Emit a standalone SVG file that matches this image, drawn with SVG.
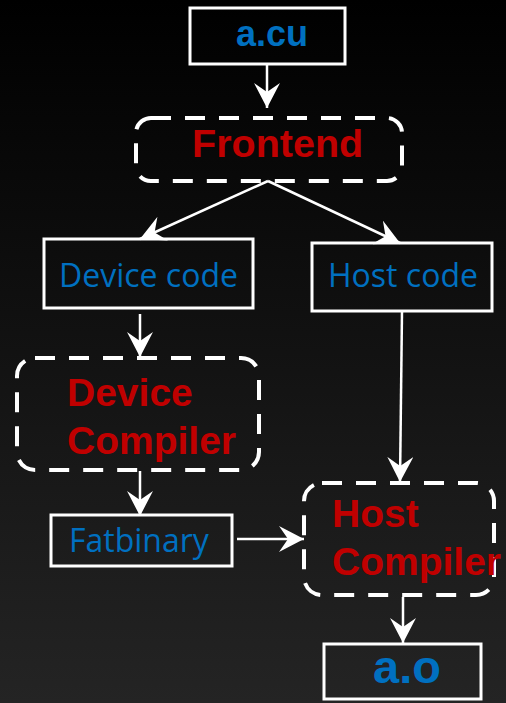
<svg xmlns="http://www.w3.org/2000/svg" width="506" height="703" viewBox="0 0 506 703">
  <defs>
    <linearGradient id="bg" x1="0" y1="0" x2="0" y2="1">
      <stop offset="0" stop-color="#000000"/>
      <stop offset="1" stop-color="#242424"/>
    </linearGradient>
    <marker id="arrow" viewBox="0 0 25 26" refX="25" refY="13" markerWidth="25" markerHeight="26" markerUnits="userSpaceOnUse" orient="auto">
      <path d="M0,0 L25,13 L0,26 L9,13 Z" fill="#ffffff"/>
    </marker>
    <style>
      .box { fill: none; stroke: #ffffff; stroke-width: 3; }
      .stage { fill: none; stroke: #ffffff; stroke-width: 4; stroke-dasharray: 20 14; }
      .file { font-family: "Liberation Sans", Arial, sans-serif; font-weight: bold; fill: #0070c0; }
      .code { font-family: "Open Sans", "Noto Sans", sans-serif; fill: #0070c0; font-size: 32px; }
      .tool { font-family: "Liberation Sans", Arial, sans-serif; font-weight: bold; fill: #c00000; }
      .link { stroke: #ffffff; stroke-width: 2.5; fill: none; marker-end: url(#arrow); }
    </style>
  </defs>

  <rect x="0" y="0" width="506" height="703" fill="url(#bg)"/>

  <g id="connectors">
    <line class="link" x1="267" y1="64" x2="267" y2="108"/>
    <line class="link" x1="268" y1="181" x2="140" y2="239"/>
    <line class="link" x1="268" y1="181" x2="400" y2="243"/>
    <line class="link" x1="140" y1="314" x2="140" y2="357"/>
    <line class="link" x1="402" y1="311" x2="400" y2="482"/>
    <line class="link" x1="140" y1="471" x2="140" y2="516"/>
    <line class="link" x1="237" y1="539" x2="304" y2="539"/>
    <line class="link" x1="403" y1="597" x2="403" y2="643"/>
  </g>

  <g id="a-cu">
    <rect class="box" x="190" y="8" width="155" height="56"/>
    <text class="file" x="272" y="46" font-size="36" text-anchor="middle">a.cu</text>
  </g>

  <g id="frontend">
    <rect class="stage" x="136" y="118" width="266" height="63" rx="15" ry="15"/>
    <text class="tool" x="192" y="157" font-size="39.5">Frontend</text>
  </g>

  <g id="device-code">
    <rect class="box" x="44" y="239" width="209" height="69"/>
    <text class="code" x="59" y="287">Device code</text>
  </g>

  <g id="host-code">
    <rect class="box" x="312" y="243" width="180" height="68"/>
    <text class="code" x="328" y="287">Host code</text>
  </g>

  <g id="device-compiler">
    <rect class="stage" x="17" y="358" width="242" height="112" rx="18" ry="18"/>
    <text class="tool" x="67" y="406" font-size="39">Device</text>
    <text class="tool" x="67" y="454" font-size="39">Compiler</text>
  </g>

  <g id="fatbinary">
    <rect class="box" x="51" y="515" width="181" height="51"/>
    <text class="code" x="69" y="552">Fatbinary</text>
  </g>

  <g id="host-compiler">
    <rect class="stage" x="304" y="483" width="190" height="112" rx="18" ry="18"/>
    <text class="tool" x="332" y="527" font-size="39">Host</text>
    <text class="tool" x="332" y="575" font-size="39">Compiler</text>
  </g>

  <g id="a-o">
    <rect class="box" x="324" y="644" width="157" height="55"/>
    <text class="file" x="407" y="683" font-size="47" text-anchor="middle">a.o</text>
  </g>
</svg>
